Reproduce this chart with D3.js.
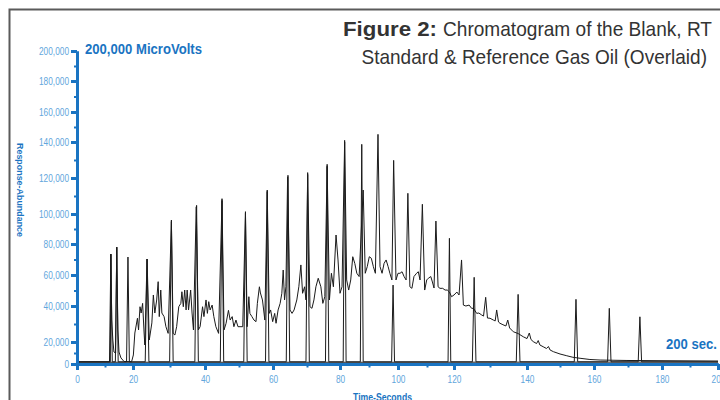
<!DOCTYPE html>
<html><head><meta charset="utf-8">
<script src="https://cdn.jsdelivr.net/npm/d3@7"></script>
<style>
html,body{margin:0;padding:0;background:#fff;}
svg{display:block;}
</style></head><body>
<svg id="chart" width="720" height="400"></svg>
<script>
// ---------- DATA ----------
const titleBold = "Figure 2:";
const titleLine1 = "Chromatogram of the Blank, RT";
const titleLine2 = "Standard & Reference Gas Oil (Overlaid)";
const yUnitLabel = "200,000 MicroVolts";
const xEndLabel = "200 sec.";
const xTitle = "Time-Seconds";
const yTitle = "Response-Abundance";

const xTickValues = [0, 20, 40, 60, 80, 100, 120, 140, 160, 180, 200];
const xMinorTicks = [10, 30, 50, 70, 90, 110, 130, 150, 170, 190];
const yTickValues = [0, 20000, 40000, 60000, 80000, 100000, 120000, 140000, 160000, 180000, 200000];
const yMinorTicks = [10000, 30000, 50000, 70000, 90000, 110000, 130000, 150000, 170000, 190000];

// Blank run (thousand microvolts)
const blankTime  = [0, 50, 100, 150, 200];
const blankValue = [1.6, 1.6, 1.6, 1.7, 1.7];

// RT standard: peak retention times (s) and apex heights (thousand microvolts)
const rtPeakTime  = [12.1, 14.2, 18.2, 23.8, 30.4, 37.6, 45.0, 51.9, 58.3, 64.4, 70.2, 76.1, 81.6, 87.5, 98.3, 118.3, 125.6, 137.6, 154.7, 164.5, 173.5];
const rtPeakValue = [73.5, 78, 71.6, 70.3, 96, 104.8, 108.5, 101.3, 113.3, 121.5, 123, 127.6, 141.1, 138.7, 53.5, 83.8, 58.5, 47.5, 44.3, 38.7, 34.0];
const rtBaseline = 2.0;

// Reference gas oil trace (s, thousand microvolts)
const goTime = [0, 11.9, 12.1, 12.4, 12.8, 13.2, 13.8, 14.2, 14.6, 15.0, 15.7, 16.8, 19.5,
  20.1, 20.5, 21.2, 21.5, 21.9, 22.2, 22.6, 23.0, 23.2, 23.8, 24.4, 25.1, 25.5, 25.9, 26.4, 26.8, 27.1, 27.5, 27.8, 28.4, 28.9, 29.5,
  30.4, 30.9, 31.4, 31.9, 32.5, 33.1, 33.4, 33.8, 34.2, 34.6, 34.9, 35.3, 35.9, 36.3, 36.7, 37.5, 38.1, 38.6, 39.3, 39.7,
  40.3, 40.7, 41.1, 41.5, 42.1, 42.6, 43.2, 44.0, 45.0, 45.6, 46.2, 46.9, 47.4, 48.0, 48.5, 49.1, 49.7,
  50.3, 51.1, 51.9, 52.4, 52.9, 53.2, 53.8, 54.4, 55.0, 55.4, 56.0, 56.3, 56.9, 57.6, 58.3, 58.9, 59.3, 59.9,
  60.5, 60.9, 61.5, 62.1, 62.6, 63.0, 63.4, 63.8, 64.3, 65.0, 65.6, 66.2, 67.0, 67.6, 68.2, 68.7, 69.3, 69.7,
  70.2, 70.9, 71.5, 72.1, 72.7, 73.4, 74.2, 74.8, 75.4, 76.1, 76.8, 77.4, 78.0, 78.8, 79.4,
  80.0, 80.7, 81.6, 82.3, 83.0, 83.7, 84.4, 85.1, 85.8, 86.6, 88.0, 88.7, 89.4,
  90.1, 90.8, 91.5, 92.2, 93.1, 93.8, 94.5, 95.2, 95.9, 96.6, 97.2, 97.9, 98.5, 99.3,
  100.0, 100.7, 101.4, 102.1, 102.8, 103.4, 104.1, 104.8, 105.5, 106.4, 107.0, 107.6, 108.4, 109.2, 109.9,
  110.5, 111.4, 112.0, 112.6, 113.3, 114.1, 114.8, 115.8, 116.7, 117.5, 118.3, 119.1,
  120.0, 120.8, 121.4, 122.1, 122.6, 123.3, 124.2, 124.9, 125.4, 126.3, 126.9, 127.7, 128.2, 128.8, 129.3,
  130.0, 130.9, 131.4, 131.8, 132.3, 132.7, 133.5, 134.3, 134.8, 135.3, 136.3, 137.6, 139.0,
  140.0, 140.7, 141.2, 141.9, 142.9, 143.4, 143.9, 144.9, 145.9, 146.5, 147.0, 148.0,
  150.0, 152.0, 153.8, 155.9, 158.8, 161.8, 169.7, 180.0, 200.0];
const goValue = [2, 2, 73.5, 32.2, 21.1, 10.9, 10, 78, 26.7, 10.9, 5.5, 2.3, 2.1,
  8.2, 25, 33.2, 26.7, 39.6, 36.1, 41.7, 25, 17.3, 70.3, 21.1, 30.6, 47.1, 36.1, 43.9, 55.7, 34.1, 50.3, 36.1, 34.1, 28.5, 24.8,
  95, 24.8, 23.9, 28.5, 39.6, 41.7, 49.2, 39.6, 50.3, 37.8, 50.3, 37.8, 50.3, 36.1, 26.7, 104, 26.7, 28.5, 39.6, 34.1,
  43.9, 35.9, 42.8, 37.8, 40.6, 34.1, 28.5, 24.8, 107.5, 26.7, 30.4, 37.6, 32.2, 34.1, 28.5, 32.2, 28.5,
  28.5, 28.5, 100.5, 28.5, 46, 35.9, 34.1, 32.2, 31.3, 41.7, 52.4, 48.4, 43.9, 32.2, 112.5, 35.9, 37.8, 31.3,
  35.9, 30.4, 37.8, 41.7, 48.2, 63.2, 43.9, 52.4, 120.5, 37.8, 35.9, 37.8, 43.9, 52.4, 66.5, 48.2, 52.4, 43.9,
  122, 39.6, 38.7, 43.9, 52.4, 57.9, 52.4, 41.7, 46, 126.5, 43.9, 61.1, 52.4, 86, 69.7,
  48.2, 52.4, 140, 56.8, 50.3, 56.8, 71.8, 67.5, 61.1, 59.0, 113.3, 61.1, 65.4,
  71.8, 70.8, 65.4, 61.1, 145.1, 65.4, 61.1, 67.5, 69.7, 65.4, 61.1, 56.8, 129.8, 56.8,
  61.1, 61.1, 62.1, 59, 56.8, 111.5, 52.4, 51.4, 59, 61.1, 62.1, 56.8, 105.4, 50.3, 56.8,
  57.9, 59, 55.5, 51.6, 95.3, 52.4, 51.4, 51.4, 50.3, 50.3, 49, 46,
  47.1, 49, 47.1, 69.7, 40.6, 40, 40.6, 38.7, 38.7, 35.9, 36.1, 35, 34.4, 45.6, 33.3,
  33.2, 32.2, 31.7, 37.8, 31.1, 30.4, 29.6, 28.9, 32.2, 27.8, 25.7, 24.7, 22.9,
  21.9, 25, 21.4, 20.2, 18.6, 20.8, 17.3, 15.7, 14.1, 15.9, 12.7, 11.2,
  9.1, 7.5, 6.1, 5.2, 4.1, 3.6, 3.2, 3.0, 2.7];

// ---------- LAYOUT ----------
const blue = "#1a74c2", lightBlue = "#62a6dc", traceColor = "#1b1b1b";
const font = "'Liberation Sans', Arial, sans-serif";
// calibration of the (slightly irregular) printed axes
const xStops = d3.range(0, 201, 10);
const xPix = [77,105,133,170,205,239,273,307,340,369,398,427,454,490,527,560,594,628,662,690,718];
const yStops = d3.range(0, 200001, 20000);
const yPix = [364,342,306,275,244,214,178,142,112,81,51];

const x = d3.scaleLinear().domain(xStops).range(xPix);
const y = d3.scaleLinear().domain(yStops).range(yPix);

const svg = d3.select("#chart");

// condensed-type emulation
function condense(sel, f) {
  sel.each(function () {
    const L = this.getComputedTextLength();
    d3.select(this).attr("textLength", L * f).attr("lengthAdjust", "spacingAndGlyphs");
  });
}
function fitText(sel, len) { sel.attr("textLength", len).attr("lengthAdjust", "spacingAndGlyphs"); }

// frame
svg.append("path").attr("d", "M720,9.5H9.5V400").attr("fill","none").attr("stroke","#5a5a5a").attr("stroke-width",2);

// traces
const line = d3.line().x(d => x(d[0])).y(d => y(d[1] * 1000));
const blankData = blankTime.map((t, i) => [t, blankValue[i]]);
const rtData = [[0, rtBaseline]];
const hw = 0.5;
rtPeakTime.forEach((t, i) => { rtData.push([t - hw, rtBaseline], [t, rtPeakValue[i]], [t + hw, rtBaseline]); });
rtData.push([200, rtBaseline]);
const goData = goTime.map((t, i) => [t, goValue[i]]);

const g = svg.append("g");
[blankData, rtData, goData].forEach(dd => {
  g.append("path").datum(dd).attr("d", line).attr("fill","none")
   .attr("stroke", traceColor).attr("stroke-width", 1).attr("stroke-linejoin","round");
});

// axes
function styleAxis(sel, major) {
  sel.select(".domain").attr("stroke", blue).attr("stroke-width", 3);
  sel.selectAll(".tick line").attr("stroke", blue).attr("stroke-width", major ? 3 : 2);
  sel.selectAll(".tick text").attr("fill", lightBlue).style("font-family", font).style("font-size", "10px");
}
const yMinor = svg.append("g").attr("transform", `translate(${x(0)},0)`)
  .call(d3.axisLeft(y).tickValues(yMinorTicks).tickSize(3).tickSizeOuter(0).tickFormat(""));
styleAxis(yMinor, false);
const xMinor = svg.append("g").attr("transform", `translate(0,${y(0)})`)
  .call(d3.axisBottom(x).tickValues(xMinorTicks).tickSize(3.5).tickSizeOuter(0).tickFormat(""));
styleAxis(xMinor, false);
const yAx = svg.append("g").attr("transform", `translate(${x(0)},0)`)
  .call(d3.axisLeft(y).tickValues(yTickValues).tickSize(6).tickPadding(2).tickSizeOuter(0).tickFormat(d3.format(",")));
styleAxis(yAx, true);
condense(yAx.selectAll(".tick text"), 0.83);
const xAx = svg.append("g").attr("transform", `translate(0,${y(0)})`)
  .call(d3.axisBottom(x).tickValues(xTickValues).tickSize(6).tickPadding(6).tickSizeOuter(0));
styleAxis(xAx, true);
condense(xAx.selectAll(".tick text"), 0.83);

// labels
svg.append("text").attr("x", 85).attr("y", 54).text(yUnitLabel)
  .attr("fill", blue).style("font-family", font).style("font-weight","bold").style("font-size","15px")
  .call(fitText, 117);
svg.append("text").attr("x", 666).attr("y", 349).text(xEndLabel)
  .attr("fill", blue).style("font-family", font).style("font-weight","bold").style("font-size","15px")
  .call(fitText, 51);
svg.append("text").attr("x", 353).attr("y", 400.5).text(xTitle)
  .attr("fill", blue).style("font-family", font).style("font-weight","bold").style("font-size","10px")
  .call(fitText, 59);
svg.append("text").attr("transform","translate(17,143) rotate(90)").text(yTitle)
  .attr("fill", blue).style("font-family", font).style("font-weight","bold").style("font-size","9px")
  .call(fitText, 94);

// title
svg.append("text").attr("x", 343).attr("y", 36).text(titleBold)
  .attr("fill","#333").style("font-family", font).style("font-weight","bold").style("font-size","21px")
  .call(fitText, 94);
svg.append("text").attr("x", 443).attr("y", 36).text(titleLine1)
  .attr("fill","#333").style("font-family", font).style("font-size","21px")
  .call(fitText, 269);
svg.append("text").attr("x", 361.5).attr("y", 64).text(titleLine2)
  .attr("fill","#333").style("font-family", font).style("font-size","21px")
  .call(fitText, 345.5);
</script>
</body></html>
